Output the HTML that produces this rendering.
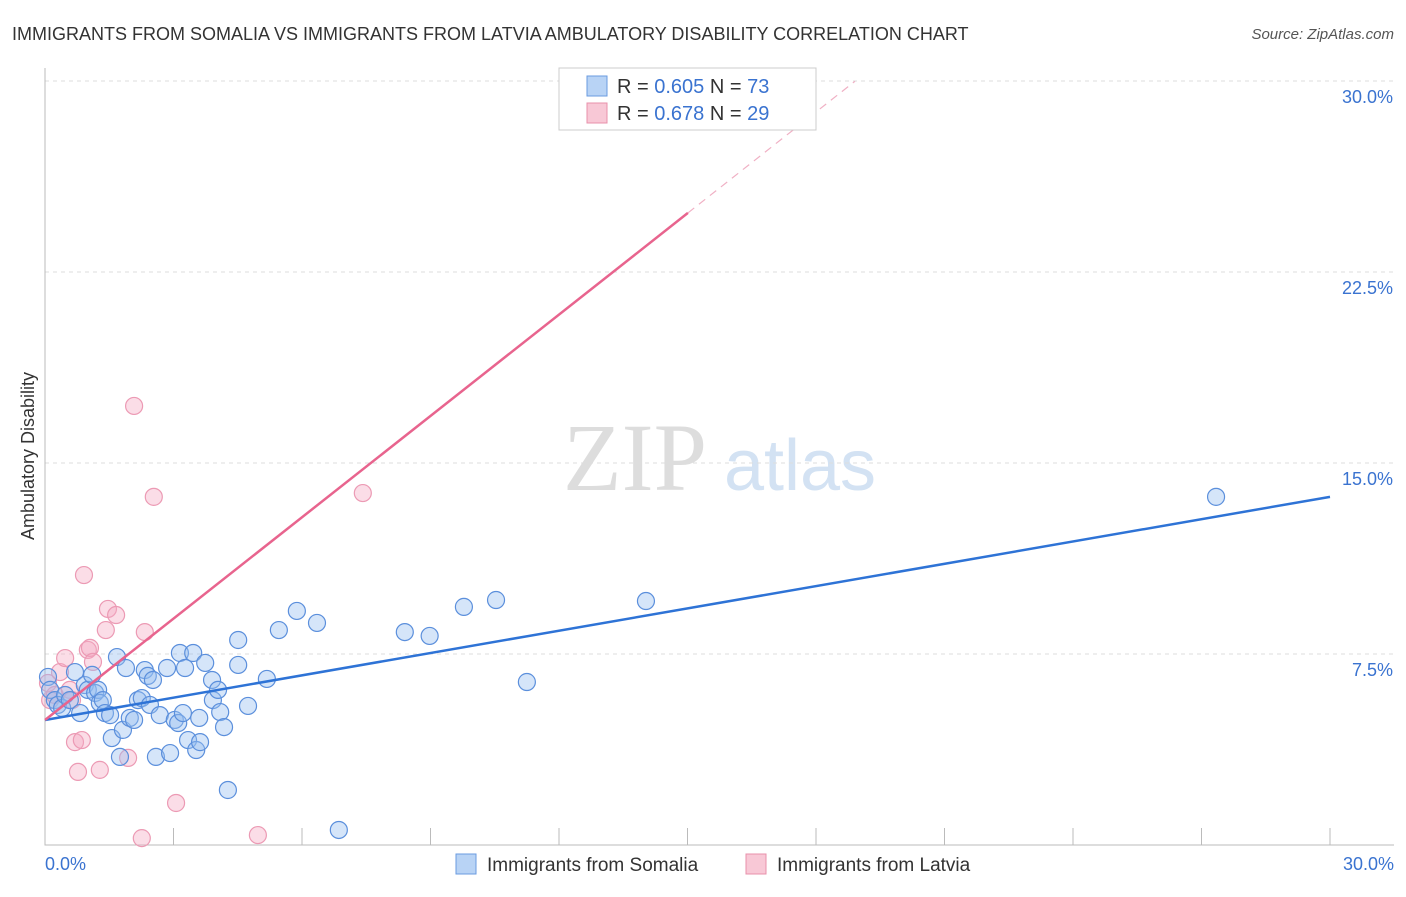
<!DOCTYPE html>
<html><head><meta charset="utf-8"><style>
body{margin:0;background:#fff;font-family:"Liberation Sans",sans-serif}
</style></head><body>
<svg id="c" width="1406" height="892" xmlns="http://www.w3.org/2000/svg" style="font-family:'Liberation Sans',sans-serif">
<text x="12" y="40" font-size="18" fill="#333">IMMIGRANTS FROM SOMALIA VS IMMIGRANTS FROM LATVIA AMBULATORY DISABILITY CORRELATION CHART</text>
<text x="1394" y="39" font-size="15" fill="#555" font-style="italic" text-anchor="end">Source: ZipAtlas.com</text>
<text x="635" y="490" font-size="96" fill="#ddd" font-family="Liberation Serif,serif" text-anchor="middle">ZIP</text>
<text x="800" y="490" font-size="72" fill="#d3e2f3" text-anchor="middle">atlas</text>
<text transform="translate(34,456) rotate(-90)" font-size="18" fill="#333" text-anchor="middle">Ambulatory Disability</text>
<g id="grid"></g><g id="pts"></g><g id="lines"></g>
<g>
<rect x="559" y="68" width="257" height="62" fill="#fff" stroke="#ccc"/>
<rect x="587" y="76" width="20" height="20" fill="#b8d3f5" stroke="#6a9be0"/>
<rect x="587" y="103" width="20" height="20" fill="#f8c8d6" stroke="#e890ab"/>
<text x="617" y="93" font-size="20" fill="#333">R = <tspan fill="#3a73d0">0.605</tspan>   N = <tspan fill="#3a73d0">73</tspan></text>
<text x="617" y="120" font-size="20" fill="#333">R = <tspan fill="#3a73d0">0.678</tspan>   N = <tspan fill="#3a73d0">29</tspan></text>
</g>
<g>
<rect x="456" y="854" width="20" height="20" fill="#b8d3f5" stroke="#6a9be0"/>
<text x="487" y="871" font-size="19" fill="#333">Immigrants from Somalia</text>
<rect x="746" y="854" width="20" height="20" fill="#f8c8d6" stroke="#e890ab"/>
<text x="777" y="871" font-size="19" fill="#333">Immigrants from Latvia</text>
</g>
</svg>
<script>
const yTicks=[7.5,15,22.5,30];
const yTickLabels=["7.5%","15.0%","22.5%","30.0%"];
const xTicks=[0,3,6,9,12,15,18,21,24,27,30];
const somaliaX=[0.07,0.12,0.23,0.30,0.40,0.47,0.58,0.70,0.82,0.93,1.00,1.10,1.17,1.24,1.28,1.35,1.40,1.52,1.56,1.68,1.75,1.82,1.89,1.98,2.08,2.17,2.26,2.33,2.40,2.45,2.52,2.59,2.68,2.85,2.92,3.03,3.11,3.15,3.22,3.27,3.34,3.46,3.53,3.60,3.62,3.74,3.90,3.92,4.04,4.09,4.18,4.27,4.51,4.51,4.74,5.18,5.46,5.88,6.35,6.86,8.40,8.98,9.78,10.53,11.25,14.03,27.34];
const somaliaY=[6.60,6.09,5.69,5.50,5.38,5.89,5.69,6.79,5.18,6.28,6.09,6.68,5.97,6.09,5.58,5.69,5.18,5.10,4.20,7.38,3.46,4.52,6.95,4.99,4.91,5.69,5.77,6.87,6.64,5.50,6.48,3.46,5.10,6.95,3.61,4.91,4.79,7.54,5.18,6.95,4.12,7.54,3.73,4.99,4.04,7.15,6.48,5.69,6.09,5.22,4.63,2.16,8.05,7.07,5.46,6.52,8.44,9.19,8.72,0.59,8.36,8.21,9.35,9.62,6.40,9.58,13.67];
const latviaX=[0.07,0.12,0.23,0.35,0.47,0.58,0.63,0.70,0.77,0.86,0.91,1.00,1.05,1.12,1.28,1.42,1.47,1.66,1.94,2.08,2.26,2.33,2.54,3.06,4.97,7.42,14.36];
const latviaY=[6.36,5.69,5.89,6.79,7.34,6.09,5.69,4.04,2.87,4.12,10.60,7.66,7.74,7.19,2.95,8.44,9.27,9.03,3.42,17.24,0.27,8.36,13.67,1.65,0.39,13.82,28.47];
const somaliaTrend=[[0,4.91],[30,13.67]];
const latviaTrend=[[0,4.91],[15.01,24.82]];
const latviaTrendExt=[[15.01,24.82],[18.91,29.99]];
const X=v=>45+v/30*1285, Y=v=>845-v/30*764;
const NS="http://www.w3.org/2000/svg";
function mk(t,a,p){const e=document.createElementNS(NS,t);for(const k in a)e.setAttribute(k,a[k]);p.appendChild(e);return e;}
const grid=document.getElementById('grid');
yTicks.forEach((t,i)=>{
 const l=mk('line',{x1:45,x2:1394,y1:Y(t),y2:Y(t),stroke:'#ddd','stroke-dasharray':'4,4'},grid);
 
 
 const tx=mk('text',{x:1393,y:Y(t)+22,'font-size':18,fill:'#3a73d0','text-anchor':'end'},grid);
 tx.textContent=yTickLabels[i];
 
 
});
const ax=mk('path',{d:'M45,68 V845 H1394',stroke:'#bbb',fill:'none'},grid);


xTicks.forEach(t=>{
 const l=mk('line',{x1:X(t),x2:X(t),y1:828,y2:845,stroke:'#bbb'},grid);
 
 
});
[[0,'0.0%','start',45],[30,'30.0%','end',1394]].forEach(a=>{
 const tx=mk('text',{x:a[3],y:870,'font-size':18,fill:'#3a73d0','text-anchor':a[2]},grid);
 tx.textContent=a[1];
 
 
});
const pts=document.getElementById('pts');
latviaX.forEach((v,i)=>{
 const c=mk('circle',{cx:X(v),cy:Y(latviaY[i]),r:8.5,fill:'rgba(245,170,195,0.4)',stroke:'#ec9ab4','stroke-width':1.2},pts);
 
 
});
somaliaX.forEach((v,i)=>{
 const c=mk('circle',{cx:X(v),cy:Y(somaliaY[i]),r:8.5,fill:'rgba(150,190,240,0.4)',stroke:'#5b8fdc','stroke-width':1.2},pts);
 
 
});
const lines=document.getElementById('lines');
const b=mk('line',{x1:X(somaliaTrend[0][0]),y1:Y(somaliaTrend[0][1]),x2:X(somaliaTrend[1][0]),y2:Y(somaliaTrend[1][1]),stroke:'#2e73d6','stroke-width':2.5},lines);


const p=mk('line',{x1:X(latviaTrend[0][0]),y1:Y(latviaTrend[0][1]),x2:X(latviaTrend[1][0]),y2:Y(latviaTrend[1][1]),stroke:'#e8648e','stroke-width':2.5},lines);


const pe=mk('line',{x1:X(latviaTrendExt[0][0]),y1:Y(latviaTrendExt[0][1]),x2:X(latviaTrendExt[1][0]),y2:Y(latviaTrendExt[1][1]),stroke:'#f0b0c4','stroke-width':1.2,'stroke-dasharray':'8,6'},lines);


</script>
</body></html>
